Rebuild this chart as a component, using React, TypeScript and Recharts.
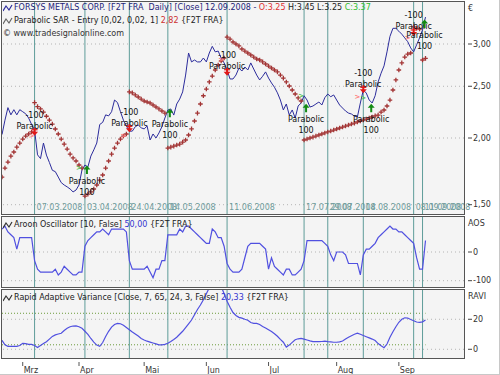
import React from 'react';
import { ComposedChart, Line, XAxis, YAxis, CartesianGrid, ReferenceLine, ReferenceDot } from 'recharts';

// ---- data (one value per trading day, 21.02.2008 .. 12.09.2008) ----
const closePrices = [
  2.03, 2.16, 2.28, 2.21, 2.26, 2.21, 2.26, 2.24, 2.22, 2.18,
  2.12, 2.07, 1.86, 1.83, 1.957, 1.858, 1.80, 1.74, 1.73, 1.69,
  1.65, 1.633, 1.62, 1.605, 1.585, 1.598, 1.633, 1.742, 1.78, 1.765,
  1.85, 1.90, 1.957, 2.12, 2.14, 2.21, 2.20, 2.24, 2.356, 2.33,
  2.24, 2.16, 2.106, 2.06, 2.06, 2.10, 2.115, 2.09, 2.08, 2.106,
  1.983, 2.035, 2.00, 2.044, 2.10, 2.18, 2.257, 2.267, 2.208, 2.316,
  2.366, 2.44, 2.624, 2.886, 2.777, 2.80, 2.777, 2.777, 2.824, 2.777,
  2.886, 2.97, 2.90, 2.91, 2.824, 2.765, 2.682, 2.58, 2.58, 2.624,
  2.705, 2.67, 2.717, 2.682, 2.765, 2.693, 2.624, 2.569, 2.61, 2.66,
  2.59, 2.536, 2.49, 2.43, 2.356, 2.257, 2.316, 2.208, 2.257, 2.18,
  2.296, 2.326, 2.40, 2.356, 2.286, 2.296, 2.316, 2.336, 2.306, 2.38,
  2.418, 2.39, 2.408, 2.356, 2.306, 2.276, 2.247, 2.227, 2.218, 2.198,
  2.19, 2.326, 2.46, 2.428, 2.356, 2.326, 2.40, 2.547, 2.645, 2.73,
  2.90, 3.10, 3.21, 3.21, 3.17, 3.13, 3.08, 3.03, 2.95, 2.90,
  2.99, 3.08, 3.19, 3.37,
];

const sarValues = [
  1.69, 1.757, 1.803, 1.85, 1.883, 1.923, 1.957, 1.991, 2.017, 2.035,
  2.053, 2.33, 2.29, 2.267, 2.237, 2.197, 2.161, 2.124, 2.079, 2.035,
  1.991, 1.948, 1.907, 1.866, 1.835, 1.811, 1.78, 1.757, 1.557, 1.57,
  1.585, 1.605, 1.633, 1.668, 1.705, 1.757, 1.811, 1.866, 1.915, 1.957,
  1.991, 2.017, 2.035, 2.44, 2.43, 2.408, 2.387, 2.366, 2.346, 2.336,
  2.326, 2.306, 2.286, 2.267, 2.247, 2.227, 1.915, 1.923, 1.931, 1.94,
  1.948, 1.965, 1.983, 2.026, 2.08, 2.152, 2.227, 2.316, 2.40, 2.47,
  2.547, 2.613, 2.682, 2.74, 2.788, 2.824, 3.09, 3.065, 3.026, 3.00,
  2.975, 2.936, 2.91, 2.886, 2.861, 2.836, 2.812, 2.80, 2.777, 2.752,
  2.728, 2.705, 2.682, 2.66, 2.624, 2.59, 2.547, 2.503, 2.46, 2.418,
  2.377, 2.346, 1.983, 1.991, 2.00, 2.008, 2.017, 2.026, 2.035, 2.044,
  2.053, 2.061, 2.07, 2.079, 2.088, 2.097, 2.106, 2.115, 2.124, 2.133,
  2.143, 2.152, 2.161, 2.17, 2.18, 2.19, 2.20, 2.208, 2.237, 2.257,
  2.296, 2.356, 2.46, 2.569, 2.682, 2.765, 2.836, 2.873, 2.886, 3.23,
  3.21, 3.20, 2.80, 2.82,
];

const aroonValues = [
  80, 90, 70, 60, 50, 10, 50, 50, 50, 50,
  50, -30, -60, -70, -70, -70, -70, -70, -60, -80,
  -70, -50, -60, -70, -80, -80, -70, -70, 20, 40,
  50, 60, 70, 70, 80, 70, 60, 80, 80, 80,
  80, 80, 70, -30, -60, -60, -60, -60, -60, -50,
  -70, -90, -60, -60, -30, -30, 60, 60, 60, 60,
  80, 70, 90, 90, 80, 70, 60, 50, 40, 30,
  30, 80, 70, 50, 50, 20, -40, -60, -70, -70,
  -70, -60, -20, 20, 30, 30, 30, 30, 20, 10,
  -60, -20, -50, -60, -70, -80, -60, -60, -80, -80,
  -70, -60, -30, 40, 40, 40, 40, 40, 40, 30,
  20, -10, -30, 0, 0, 0, -10, -40, -40, -40,
  -40, -80, -10, 10, 10, 20, 30, 50, 60, 70,
  80, 90, 80, 80, 70, 70, 60, 50, 40, 30,
  -20, -60, -60, 40,
];

const raviValues = [
  6, 3, 2, 2, 2, 2, 2.5, 4, 3.8, 3.3,
  3.3, 2.5, 1.2, 2.5, 3.8, 5, 6.8, 8.6, 9.6, 10.2,
  10.7, 12.5, 14, 15, 15.5, 15.6, 15, 14, 12, 10,
  7.2, 4.8, 2.8, 2, 4.5, 8.5, 12, 14.8, 16.5, 17.3,
  17, 16, 14.5, 13, 11.5, 10.2, 8.8, 7.2, 6.2, 5.4,
  4.8, 4.2, 3.6, 3, 3, 3.3, 4, 5.2, 6.5, 8,
  10, 12, 14.5, 17, 19.5, 23, 26.5, 29.5, 33, 37,
  41, 44, 46, 45, 42, 37, 32, 28, 24.5, 22.5,
  21.3, 20.8, 20, 19.4, 17.8, 17.3, 17.3, 16.5, 15.2, 14.2,
  13, 11.8, 10.3, 8.7, 6.6, 4.7, 1.5, 2.8, 4.6, 6.4,
  7, 7.3, 6.8, 6.2, 5.6, 5.1, 5.1, 5.1, 5.2, 5.4,
  5.1, 4.9, 4.7, 4.7, 5, 5.5, 6.8, 8, 9, 10,
  10.7, 10, 9.2, 8.4, 7.6, 6.8, 5.8, 3.8, 2.3, 1.1,
  3.5, 8, 11.7, 15, 18, 20, 21, 20.8, 19.8, 19,
  18.2, 18, 18.3, 19.5,
];

const monthTicks = [7, 26, 48, 69, 90, 113, 134];
const monthLabels = ['Mrz', 'Apr', 'Mai', 'Jun', 'Jul', 'Aug', 'Sep'];

const signalDays = [11, 28, 43, 56, 76, 102, 110, 122, 139, 142];
const signalDates = ['07.03.2008', '03.04.2008', '24.04.2008', '14.05.2008', '11.06.2008',
  '17.07.2008', '29.07.2008', '14.08.2008', '08.09.2008', '11.09.2008'];

const arrowDays = [11, 28, 43, 56, 76, 102, 122, 124, 139, 142];
const arrowKinds = [-100, 100, -100, 100, -100, 100, -100, 100, -100, 100];
const arrowPrices = [2.055, 1.742, 2.085, 2.225, 2.662, 2.273, 2.467, 2.273, 3.16, 3.27];

const entryDays = [10, 26, 41, 74, 101, 120, 122, 137];
const entryKinds = [-1, 1, -1, -1, 1, -1, 1, -1];
const entryPrices = [2.02, 1.757, 2.02, 2.80, 2.395, 2.39, 2.38, 3.08];

const priceTicks = [1.5, 2, 2.5, 3, 3.5];
const aroonTicks = [-100, 0, 100];
const raviTicks = [0, 20, 35];
const raviLevels = [24, 3];
const lastDay = 143;

const data = closePrices.map((c, i) => ({
  i,
  close: c,
  sar: sarValues[i],
  aroon: aroonValues[i],
  ravi: raviValues[i],
}));

// ---- styles ----
const FONT = "'DejaVu Sans', Verdana, sans-serif";
const FS = 8;
const PLOT_BG = '#f4f4f4';
const TEAL = '#5e9c99';
const GRID = '#b4b4b4';
const PRICE_C = '#2c2c9c';
const SAR_C = '#a33535';
const OSC_C = '#5050e0';
const AXIS_TXT = '#333';

const makeRightTick = (topValue: number, topLabel: string, fmt: (v: number) => string) => (props: any) => {
  const { x, y, payload } = props;
  if (payload.value === topValue) {
    return (
      <text x={x + 4} y={y} fontSize={FS} fontFamily={FONT} fill={AXIS_TXT} dominantBaseline="central">
        {topLabel}
      </text>
    );
  }
  return (
    <g>
      <line x1={x + 4} x2={x + 8} y1={y} y2={y} stroke="#444" />
      <text x={x + 9} y={y} fontSize={FS} fontFamily={FONT} fill={AXIS_TXT} dominantBaseline="central">
        {fmt(payload.value)}
      </text>
    </g>
  );
};

const priceTick = makeRightTick(3.5, '€', (v) => v.toFixed(2).replace('.', ','));
const aroonTick = makeRightTick(100, 'AOS', (v) => String(v));
const raviTick = makeRightTick(35, 'RAVI', (v) => String(v));

const monthTick = (props: any) => {
  const { x, y, payload } = props;
  const k = monthTicks.indexOf(payload.value);
  return (
    <g>
      <line x1={x} x2={x} y1={y + 4} y2={y + 8} stroke="#555" />
      <text x={x + 1} y={y + 12} fontSize={FS} fontFamily={FONT} fill={AXIS_TXT} dominantBaseline="central">
        {monthLabels[k]}
      </text>
    </g>
  );
};

const sarDot = (props: any) => {
  const { cx, cy, index } = props;
  if (cx == null || cy == null) return <g key={'sd' + index} />;
  return (
    <path
      key={'sd' + index}
      d={`M${cx - 2.3},${cy}H${cx + 2.3}M${cx},${cy - 2.3}V${cy + 2.3}`}
      stroke={SAR_C}
      strokeWidth={1.3}
    />
  );
};

const txt = (x: number, y: number, s: string, fill = '#111') => (
  <text x={x} y={y} textAnchor="middle" dominantBaseline="central" fontSize={FS} fontFamily={FONT} fill={fill}>
    {s}
  </text>
);

const ArrowMark = ({ cx, cy, kind }: { cx: number; cy: number; kind: number }) => {
  if (cx == null || cy == null) return null;
  if (kind < 0) {
    const r = '#e01818';
    return (
      <g>
        {txt(cx, cy - 16, '-100')}
        {txt(cx, cy - 5, 'Parabolic')}
        <path d={`M${cx},${cy + 4}L${cx - 3.5},${cy}L${cx - 1},${cy}L${cx - 1},${cy - 4}L${cx + 1},${cy - 4}L${cx + 1},${cy}L${cx + 3.5},${cy}Z`} fill={r} />
        <path d={`M${cx - 3},${cy - 2}H${cx + 3}`} stroke={r} strokeWidth={1.2} />
      </g>
    );
  }
  const g = '#138a13';
  const ax = cx + 2;
  return (
    <g>
      {txt(ax, cy + 11, 'Parabolic')}
      {txt(ax, cy + 22, '100')}
      <path d={`M${ax},${cy - 4.5}L${ax - 3.5},${cy - 0.5}L${ax - 1},${cy - 0.5}L${ax - 1},${cy + 4}L${ax + 1},${cy + 4}L${ax + 1},${cy - 0.5}L${ax + 3.5},${cy - 0.5}Z`} fill={g} />
    </g>
  );
};

const EntryMark = ({ cx, cy, kind }: { cx: number; cy: number; kind: number }) => {
  if (cx == null || cy == null) return null;
  return (
    <text x={cx} y={cy} textAnchor="middle" dominantBaseline="central" fontSize={7} fontFamily={FONT}
      fill={kind < 0 ? '#ff7a7a' : '#4fbf4f'} fontWeight="bold">
      {'>'}
    </text>
  );
};

const signalLines = (withLabels: boolean) =>
  signalDays.map((d, k) => (
    <ReferenceLine
      key={'sig' + k}
      x={d}
      stroke={TEAL}
      strokeWidth={1}
      label={
        withLabels
          ? (p: any) => (
              <text
                x={p.viewBox.x + 2}
                y={p.viewBox.y + p.viewBox.height - 4}
                fontSize={FS}
                fontFamily={FONT}
                fill="#6f9c9c"
              >
                {signalDates[k]}
              </text>
            )
          : undefined
      }
    />
  ));

const Icon = ({ color = '#2c2c9c' }: { color?: string }) => (
  <svg width={10} height={8} style={{ display: 'inline-block', verticalAlign: 'middle', marginRight: 1 }}>
    <polyline points="0,7 3,2 6,6 9,1" fill="none" stroke={color} strokeWidth={1.2} />
  </svg>
);

const titleStyle: React.CSSProperties = {
  position: 'absolute',
  whiteSpace: 'pre',
  fontFamily: FONT,
  fontSize: FS,
  lineHeight: '10px',
  pointerEvents: 'none',
};

const frame = (left: number, top: number, width: number, height: number): React.CSSProperties => ({
  position: 'absolute',
  left,
  top,
  width,
  height,
  boxSizing: 'border-box',
  border: '1px solid #555',
  pointerEvents: 'none',
});

export default function App() {
  return (
    <div
      style={{
        position: 'fixed',
        left: 0,
        top: 0,
        width: 500,
        height: 375,
        background: '#fff',
        overflow: 'hidden',
        boxSizing: 'border-box',
        borderRight: '1px solid #c8c8c8',
        borderBottom: '1px solid #c8c8c8',
      }}
    >
      {/* price panel */}
      <div style={{ position: 'absolute', left: 0, top: 0 }}>
        <ComposedChart width={500} height={216} data={data} margin={{ top: 2, right: 0, bottom: 2, left: 2 }}>
          <CartesianGrid horizontal={false} vertical={false} fill={PLOT_BG} />
          <XAxis type="number" dataKey="i" domain={[0, 156]} hide allowDataOverflow />
          <YAxis
            orientation="right"
            scale="log"
            domain={[1.441, 3.596]}
            ticks={priceTicks}
            width={36}
            axisLine={false}
            tickLine={false}
            tickSize={0}
            tickMargin={0}
            tick={priceTick}
            allowDataOverflow
            interval={0}
          />
          {priceTicks.slice(0, 4).map((v) => (
            <ReferenceLine key={'pg' + v} y={v} stroke={GRID} strokeDasharray="1 3" />
          ))}
          {signalLines(true)}
          <Line dataKey="close" stroke={PRICE_C} strokeWidth={1} dot={false} activeDot={false} isAnimationActive={false} />
          <Line dataKey="sar" stroke="none" strokeWidth={0} dot={sarDot} activeDot={false} isAnimationActive={false} />
          {entryDays.map((d, k) => (
            <ReferenceDot key={'en' + k} x={d} y={entryPrices[k]} r={0}
              shape={(p: any) => <EntryMark cx={p.cx} cy={p.cy} kind={entryKinds[k]} />} />
          ))}
          {arrowDays.map((d, k) => (
            <ReferenceDot key={'ar' + k} x={d} y={arrowPrices[k]} r={0}
              shape={(p: any) => <ArrowMark cx={p.cx} cy={p.cy} kind={arrowKinds[k]} />} />
          ))}
        </ComposedChart>
      </div>

      {/* aroon panel */}
      <div style={{ position: 'absolute', left: 0, top: 215 }}>
        <ComposedChart width={500} height={74} data={data} margin={{ top: 2, right: 0, bottom: 2, left: 2 }}>
          <CartesianGrid horizontal={false} vertical={false} fill={PLOT_BG} />
          <XAxis type="number" dataKey="i" domain={[0, 156]} hide allowDataOverflow />
          <YAxis
            orientation="right"
            domain={[-122, 122]}
            ticks={aroonTicks}
            width={36}
            axisLine={false}
            tickLine={false}
            tickSize={0}
            tickMargin={0}
            tick={aroonTick}
            allowDataOverflow
            interval={0}
          />
          {[-100, 0].map((v) => (
            <ReferenceLine key={'ag' + v} y={v} stroke={GRID} strokeDasharray="1 3" />
          ))}
          {signalLines(false)}
          <Line dataKey="aroon" stroke={OSC_C} strokeWidth={1.2} dot={false} activeDot={false} isAnimationActive={false} />
        </ComposedChart>
      </div>

      {/* ravi panel */}
      <div style={{ position: 'absolute', left: 0, top: 288 }}>
        <ComposedChart width={500} height={87} data={data} margin={{ top: 2, right: 0, bottom: 0, left: 2 }}>
          <CartesianGrid horizontal={false} vertical={false} fill={PLOT_BG} />
          <XAxis
            type="number"
            dataKey="i"
            domain={[0, 156]}
            ticks={monthTicks}
            height={17}
            axisLine={false}
            tickLine={false}
            tickSize={0}
            tickMargin={0}
            tick={monthTick}
            interval={0}
            allowDataOverflow
          />
          <YAxis
            orientation="right"
            domain={[-5.8, 39.5]}
            ticks={raviTicks}
            width={36}
            axisLine={false}
            tickLine={false}
            tickSize={0}
            tickMargin={0}
            tick={raviTick}
            allowDataOverflow
            interval={0}
          />
          {[0, 20].map((v) => (
            <ReferenceLine key={'rg' + v} y={v} stroke={GRID} strokeDasharray="1 3" />
          ))}
          {raviLevels.map((v) => (
            <ReferenceLine key={'rl' + v} segment={[{ x: 0, y: v }, { x: lastDay, y: v }]} stroke="#6b9a3a" strokeDasharray="1 2" />
          ))}
          {signalLines(false)}
          <Line dataKey="ravi" stroke={OSC_C} strokeWidth={1.2} dot={false} activeDot={false} isAnimationActive={false} />
        </ComposedChart>
      </div>

      {/* frames */}
      <div style={frame(1, 1, 464, 214)} />
      <div style={frame(1, 216, 464, 72)} />
      <div style={frame(1, 289, 464, 70)} />

      {/* titles */}
      <div style={{ ...titleStyle, left: 3, top: 3, color: '#1e1e7a' }}>
        <Icon />
        <span>FORSYS METALS CORP. [F2T FRA  Daily] [Close] 12.09.2008 - </span>
        <span style={{ color: '#e03030' }}>O:3.25</span>
        <span style={{ color: '#222' }}> H:3.45 L:3.25 </span>
        <span style={{ color: '#2ec02e' }}>C:3.37</span>
      </div>
      <div style={{ ...titleStyle, left: 3, top: 16, color: '#222' }}>
        <Icon color="#666" />
        <span>Parabolic SAR - Entry [0,02, 0,02, 1] </span>
        <span style={{ color: '#cc3030' }}>2,82</span>
        <span> {'{F2T FRA}'}</span>
      </div>
      <div style={{ ...titleStyle, left: 3, top: 29, color: '#333' }}>© www.tradesignalonline.com</div>

      <div style={{ ...titleStyle, left: 3, top: 220, color: '#222' }}>
        <Icon color="#333" />
        <span>Aroon Oscillator [10, False] </span>
        <span style={{ color: '#3535d0' }}>50,00</span>
        <span> {'{F2T FRA}'}</span>
      </div>
      <div style={{ ...titleStyle, left: 3, top: 293, color: '#222' }}>
        <Icon color="#333" />
        <span>Rapid Adaptive Variance [Close, 7, 65, 24, 3, False] </span>
        <span style={{ color: '#3535d0' }}>20,33</span>
        <span> {'{F2T FRA}'}</span>
      </div>
    </div>
  );
}
